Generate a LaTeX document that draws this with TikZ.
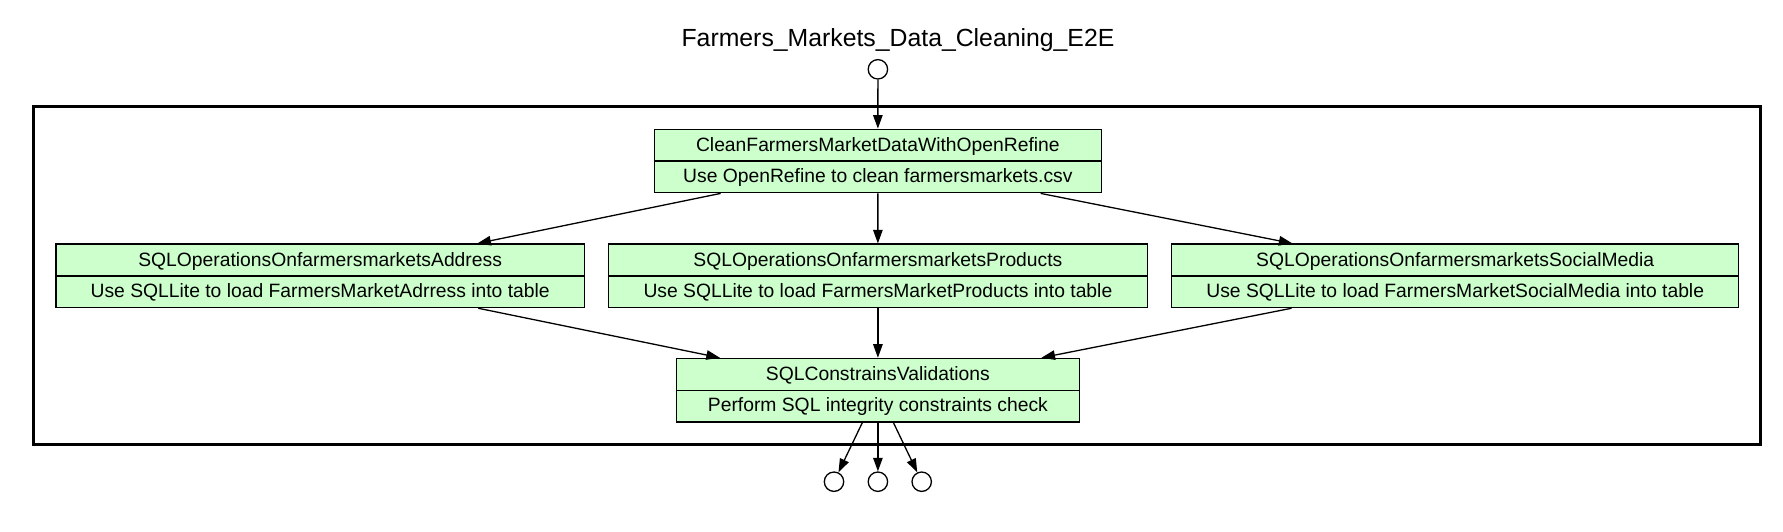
\documentclass[tikz,border=0pt]{standalone}
\usepackage{fontspec}
\setmainfont{Liberation Sans}
\usetikzlibrary{arrows.meta}
\definecolor{boxgreen}{HTML}{CCFFCC}
\begin{document}
\begin{tikzpicture}[x=1pt,y=-1pt,
  taskbox/.style={draw=black, fill=boxgreen, line width=1.3pt, rectangle, minimum height=63.5pt, inner sep=0pt},
  boxtext/.style={font=\fontsize{19.3}{22}\selectfont, inner sep=0pt, anchor=base},
  port/.style={draw=black, circle, line width=1.3pt, minimum size=19.4pt, inner sep=0pt, fill=white},
  flow/.style={draw=black, line width=1.3pt, -{Triangle[length=13.6pt,width=9.5pt]}},
  cluster/.style={draw=black, line width=2.7pt},
  divider/.style={draw=black, line width=1.3pt}]
\useasboundingbox (0,0) rectangle (1783,531);
% title
\node[font=\fontsize{24.8}{28}\selectfont, inner sep=0pt, anchor=base] (title) at (898,46.7) {Farmers\_Markets\_Data\_Cleaning\_E2E};
% cluster
\draw[cluster] (33.7,106.7) rectangle (1760.4,444.3);
% ports
\node[port] (in) at (877.9,69.3) {};
\node[port] (o1) at (834,481.7) {};
\node[port] (o2) at (877.9,481.7) {};
\node[port] (o3) at (921.7,481.7) {};
% boxes
\node[taskbox, minimum width=447.1pt] (top) at (877.85,161) {};
\node[taskbox, minimum width=528.5pt] (addr) at (320.15,275.85) {};
\node[taskbox, minimum width=539.2pt] (prod) at (877.9,275.85) {};
\node[taskbox, minimum width=566.8pt] (soc) at (1455.2,275.85) {};
\node[taskbox, minimum width=403pt] (val) at (877.9,390.15) {};
% dividers
\foreach \b in {top,addr,prod,soc,val}{\draw[divider] (\b.west) -- (\b.east);}
% texts
\node[boxtext] (topA) at (877.85,151.3) {CleanFarmersMarketDataWithOpenRefine};
\node[boxtext] (topB) at (877.85,182.3) {Use OpenRefine to clean farmersmarkets.csv};
\node[boxtext] (addrA) at (320.15,266) {SQLOperationsOnfarmersmarketsAddress};
\node[boxtext] (addrB) at (320.15,297) {Use SQLLite to load FarmersMarketAdrress into table};
\node[boxtext] (prodA) at (877.9,266) {SQLOperationsOnfarmersmarketsProducts};
\node[boxtext] (prodB) at (877.9,297) {Use SQLLite to load FarmersMarketProducts into table};
\node[boxtext] (socA) at (1455.2,266) {SQLOperationsOnfarmersmarketsSocialMedia};
\node[boxtext] (socB) at (1455.2,297) {Use SQLLite to load FarmersMarketSocialMedia into table};
\node[boxtext] (valA) at (877.9,380.3) {SQLConstrainsValidations};
\node[boxtext] (valB) at (877.9,411.3) {Perform SQL integrity constraints check};
% edges
\draw[flow] (in) -- (top);
\draw[flow] (top) -- (addr);
\draw[flow] (top) -- (prod);
\draw[flow] (top) -- (soc);
\draw[flow] (addr) -- (val);
\draw[flow] (prod) -- (val);
\draw[flow] (soc) -- (val);
\draw[flow] (val) -- (o1);
\draw[flow] (val) -- (o2);
\draw[flow] (val) -- (o3);
\end{tikzpicture}
\end{document}
